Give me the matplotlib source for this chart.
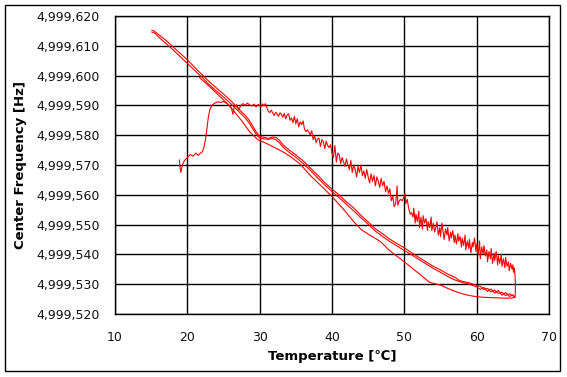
import matplotlib
matplotlib.use("Agg")
import matplotlib.pyplot as plt
from matplotlib.ticker import FuncFormatter
from matplotlib.patches import Rectangle
import numpy as np

BASE = 4999000  # Hz

# Segment 1: first heating run (noisy), temperature [C] and frequency offset [Hz]
heat1_T = [18.9, 19.0, 19.1, 19.3, 19.6, 20.0, 20.4, 20.8, 21.2, 21.5, 21.8, 22.1, 22.3, 22.5, 22.7,
           22.9, 23.1, 23.4, 23.8, 24.2, 24.6, 25.0, 25.4, 25.8, 26.1, 26.3, 26.5, 26.8, 27.1, 27.4,
           27.7, 28.0, 28.3, 28.6, 28.9, 29.2, 29.5, 29.8,
           30.0, 30.2, 30.4, 30.6, 30.8, 31.0, 31.2, 31.4, 31.6, 31.8, 32.0, 32.2, 32.4, 32.6, 32.8,
           33.0, 33.2, 33.4, 33.6, 33.8, 34.0, 34.2, 34.4, 34.6, 34.8, 35.0, 35.2, 35.4, 35.6, 35.8,
           36.0, 36.2, 36.4, 36.6, 36.8, 37.0, 37.2, 37.4, 37.6, 37.8, 38.0, 38.2, 38.4, 38.6, 38.8,
           39.0, 39.2, 39.4, 39.6, 39.8, 40.0, 40.2, 40.4, 40.6, 40.8, 41.0, 41.2, 41.4, 41.6, 41.8,
           42.0, 42.2, 42.4, 42.6, 42.8, 43.0, 43.2, 43.4, 43.6, 43.8, 44.0, 44.2, 44.4, 44.6, 44.8,
           45.0, 45.2, 45.4, 45.6, 45.8, 46.0, 46.2, 46.4, 46.6, 46.8, 47.0, 47.2, 47.4, 47.6, 47.8,
           48.0, 48.2, 48.4, 48.6, 48.8, 49.0, 49.1, 49.3, 49.5, 49.7, 49.9, 50.1, 50.2, 50.4, 50.6,
           50.8, 51.0, 51.2, 51.3, 51.5, 51.6, 51.8, 52.0, 52.1, 52.3, 52.5, 52.6, 52.8, 53.0, 53.2,
           53.3, 53.5, 53.7, 53.8, 54.0, 54.2, 54.4, 54.5, 54.7, 54.9, 55.0, 55.2, 55.4, 55.5, 55.7,
           55.9, 56.0, 56.2, 56.4, 56.5, 56.7, 56.9, 57.0, 57.2, 57.4, 57.5, 57.7, 57.9, 58.0, 58.2,
           58.4, 58.5, 58.7, 58.9, 59.0, 59.2, 59.4, 59.5, 59.7, 59.9, 60.0, 60.2, 60.4, 60.5, 60.7,
           60.9, 61.0, 61.2, 61.4, 61.5, 61.7, 61.9, 62.0, 62.2, 62.4, 62.5, 62.7, 62.9, 63.0, 63.2,
           63.4, 63.5, 63.7, 63.9, 64.0, 64.2, 64.4, 64.5, 64.7, 64.9, 65.0, 65.1, 65.2, 65.3, 65.35,
           65.35, 65.3, 65.1]
heat1_F = [571.7, 569.0, 567.5, 570.0, 571.5, 572.5, 573.5, 573.0, 574.0, 573.2, 574.0, 574.5, 576.0, 578.5, 582.0,
           586.0, 588.5, 590.0, 590.8, 591.2, 591.0, 591.3, 590.8, 590.0, 589.0, 587.0, 589.5, 590.2, 588.5, 590.0,
           590.6, 590.0, 590.8, 590.2, 589.8, 590.4, 589.5, 590.3,
           590.0, 589.6, 590.5, 589.8, 590.6, 589.2, 588.0, 587.6, 588.4, 587.5, 586.6, 587.7, 587.2, 586.3, 587.5,
           587.0, 586.0, 587.3, 585.5, 586.8, 587.2, 585.0, 585.8, 584.2, 586.3, 583.8, 585.5, 582.8, 584.5, 583.5,
           584.8, 582.0, 581.2, 581.8, 581.0, 580.2, 581.5, 578.5, 579.8, 577.5, 578.8, 579.0, 576.2, 578.5, 577.8,
           575.5, 578.0, 576.5, 575.8, 576.8, 574.0, 572.5, 576.5, 571.0, 574.0, 573.5, 570.5, 572.5, 571.0, 569.5,
           572.0, 570.0, 568.5, 571.5, 567.5, 570.0, 568.5, 566.0, 569.5, 567.5, 570.0, 566.5, 568.0, 565.5, 568.5,
           566.0, 564.0, 567.0, 564.5, 566.5, 563.0, 566.0, 564.5, 562.5, 565.5, 563.0, 564.5, 561.0, 563.0, 560.5,
           562.0, 558.0, 559.5, 556.0, 557.0, 563.0, 556.5, 558.0, 558.5, 558.0, 559.0, 560.5, 557.0, 558.5, 555.5,
           553.5, 554.0, 552.5, 555.5, 550.5, 553.5, 551.0, 554.5, 549.0, 552.5, 548.5, 553.0, 550.5, 552.0, 548.0,
           551.0, 549.0, 552.5, 548.0, 550.5, 547.5, 549.5, 551.0, 546.5, 549.0, 546.0, 550.5, 547.0, 545.0, 548.5,
           546.5, 549.0, 544.5, 547.5, 545.5, 548.0, 544.0, 546.5, 543.5, 547.0, 544.5, 546.0, 542.5, 545.5, 543.0,
           546.5, 541.5, 544.5, 542.0, 545.0, 540.5, 544.0, 542.5, 545.5, 541.0, 543.5, 540.0, 544.5, 538.5, 542.5,
           540.0, 543.0, 539.5, 541.5, 537.5, 541.0, 538.5, 542.0, 537.0, 540.5, 538.0, 541.0, 536.5, 539.5, 537.0,
           540.0, 536.0, 538.5, 535.5, 539.0, 536.0, 537.5, 534.5, 537.0, 535.0, 536.5, 534.0, 535.5, 533.0, 530.0,
           527.5, 525.8, 525.6]

# Segment 2: cooling run 65 -> 15 C
cool1_T = [65.1, 64.5, 64.0, 63.5, 63.0, 62.5, 62.0, 61.5, 61.0, 60.5, 60.0, 59.0, 58.0, 57.5, 57.0,
           56.0, 55.0, 54.0, 53.0, 52.0, 51.0, 50.0, 49.0, 48.0, 47.0, 46.0, 45.0, 44.0, 43.0, 42.0,
           41.0, 40.0, 39.0, 38.0, 37.0, 36.0, 35.0, 34.0, 33.3, 32.8, 32.3, 31.8, 31.2, 30.6, 30.0,
           29.5, 29.0, 28.5, 28.0, 27.5, 27.0, 26.5, 26.0, 25.0, 24.0, 23.0, 22.0, 21.0, 20.0, 19.0,
           18.0, 17.0, 16.0, 15.4, 15.1]
cool1_F = [526.0, 526.8, 526.2, 527.3, 526.9, 528.0, 527.4, 528.6, 528.2, 529.3, 529.6, 530.4, 531.0, 531.4, 532.3,
           533.4, 534.8, 536.0, 537.5, 539.0, 540.6, 542.2, 543.6, 545.1, 546.9, 548.6, 550.9, 553.1, 555.6, 557.6,
           559.9, 561.9, 564.1, 566.6, 569.0, 571.4, 573.4, 575.2, 576.6, 578.1, 579.2, 579.4, 578.9, 579.3, 579.6,
           581.2, 583.2, 585.2, 586.7, 587.8, 589.1, 590.3, 591.6, 593.8, 595.9, 598.0, 600.4, 602.8, 605.3, 607.5,
           609.7, 611.9, 613.8, 615.0, 615.2]

# Segment 3: heating run 15 -> 65 C
heat2_T = [15.1, 15.5, 16.0, 17.0, 18.0, 19.0, 20.0, 21.0, 22.0, 23.0, 24.0, 25.0, 26.0, 26.5, 27.0,
           27.5, 28.0, 28.5, 29.0, 29.5, 30.0, 30.6, 31.2, 31.8, 32.3, 32.8, 33.3, 34.0, 35.0, 36.0,
           37.0, 38.0, 39.0, 40.0, 41.0, 42.0, 43.0, 44.0, 45.0, 46.0, 47.0, 48.0, 49.0, 50.0, 51.0,
           52.0, 53.0, 54.0, 55.0, 56.0, 57.0, 57.5, 58.0, 59.0, 60.0, 60.5, 61.0, 61.5, 62.0, 62.5,
           63.0, 63.5, 64.0, 64.5, 65.0, 65.3]
heat2_F = [614.6, 614.3, 613.0, 610.9, 608.7, 606.4, 604.1, 601.8, 599.5, 597.0, 594.9, 592.8, 590.6, 589.4, 588.2,
           587.0, 585.8, 584.3, 582.3, 580.4, 579.0, 578.8, 578.6, 578.9, 578.4, 577.3, 575.8, 574.4, 572.6, 570.5,
           568.2, 565.7, 563.3, 561.1, 559.0, 556.8, 554.6, 552.3, 550.1, 547.8, 546.0, 544.3, 542.8, 541.3, 539.9,
           538.3, 536.8, 535.3, 534.0, 532.6, 531.4, 531.0, 530.6, 530.0, 529.1, 528.3, 528.9, 527.6, 528.4, 527.0,
           527.9, 526.3, 527.2, 525.9, 526.4, 525.7]

# Segment 4: final cooling run 65 -> 21.7 C
cool2_T = [65.3, 65.0, 64.0, 63.0, 62.0, 61.0, 60.0, 59.0, 58.0, 57.0, 56.0, 55.0, 54.0, 53.5, 52.0,
           50.0, 48.0, 46.7, 45.0, 44.0, 43.0, 41.5, 40.0, 38.5, 37.0, 35.6, 34.5, 33.3, 31.8, 30.8,
           29.8, 28.7, 27.5, 26.0, 24.5, 23.0, 21.7]
cool2_F = [525.6, 525.4, 525.3, 525.4, 525.5, 525.6, 525.8, 526.2, 526.8, 527.6, 528.6, 529.7, 530.3, 530.6, 533.6,
           537.5, 541.2, 544.3, 546.8, 548.4, 551.0, 555.4, 559.4, 563.0, 566.5, 570.3, 572.4, 574.3, 576.2, 577.4,
           578.4, 580.9, 584.9, 589.4, 593.0, 596.5, 599.3]

x_ticks = [10, 20, 30, 40, 50, 60, 70]
y_ticks = [4999520, 4999530, 4999540, 4999550, 4999560, 4999570, 4999580, 4999590, 4999600, 4999610, 4999620]

W, H = 567, 377
fig = plt.figure(figsize=(W / 100, H / 100), dpi=100)
fig.patch.set_facecolor("white")
ax = fig.add_axes([115 / W, (H - 314) / H, (549 - 115) / W, (314 - 16) / H])

red = "#FF0000"
for T, F in [(heat1_T, heat1_F), (cool1_T, cool1_F), (heat2_T, heat2_F), (cool2_T, cool2_F)]:
    ax.plot(T, BASE + np.array(F), color=red, lw=0.8, zorder=3)

ax.set_xlim(x_ticks[0], x_ticks[-1])
ax.set_ylim(y_ticks[0], y_ticks[-1])
ax.set_xticks(x_ticks)
ax.set_yticks(y_ticks)
ax.yaxis.set_major_formatter(FuncFormatter(lambda v, p: f"{v:,.0f}"))
ax.grid(True, color="black", lw=1.0)
ax.set_axisbelow(True)
ax.tick_params(length=0, labelsize=9, colors="#111111")
ax.tick_params(axis="x", pad=12)
ax.tick_params(axis="y", pad=11)
for s in ax.spines.values():
    s.set_color("black")
    s.set_linewidth(1.0)

ax.set_xlabel("Temperature [℃]", fontsize=9.5, fontweight="bold", va="center")
ax.xaxis.set_label_coords(0.5, -(356.5 - 314) / 298)
ax.set_ylabel("Center Frequency [Hz]", fontsize=9.5, fontweight="bold", va="center", ha="center")
ax.yaxis.set_label_coords((20 - 115) / 434, 0.5)

fig.patches.append(Rectangle((5 / W, (H - 371) / H), 555 / W, 366 / H, transform=fig.transFigure,
                             fill=False, edgecolor="black", lw=1.0))

fig.savefig("out.png", dpi=100)
